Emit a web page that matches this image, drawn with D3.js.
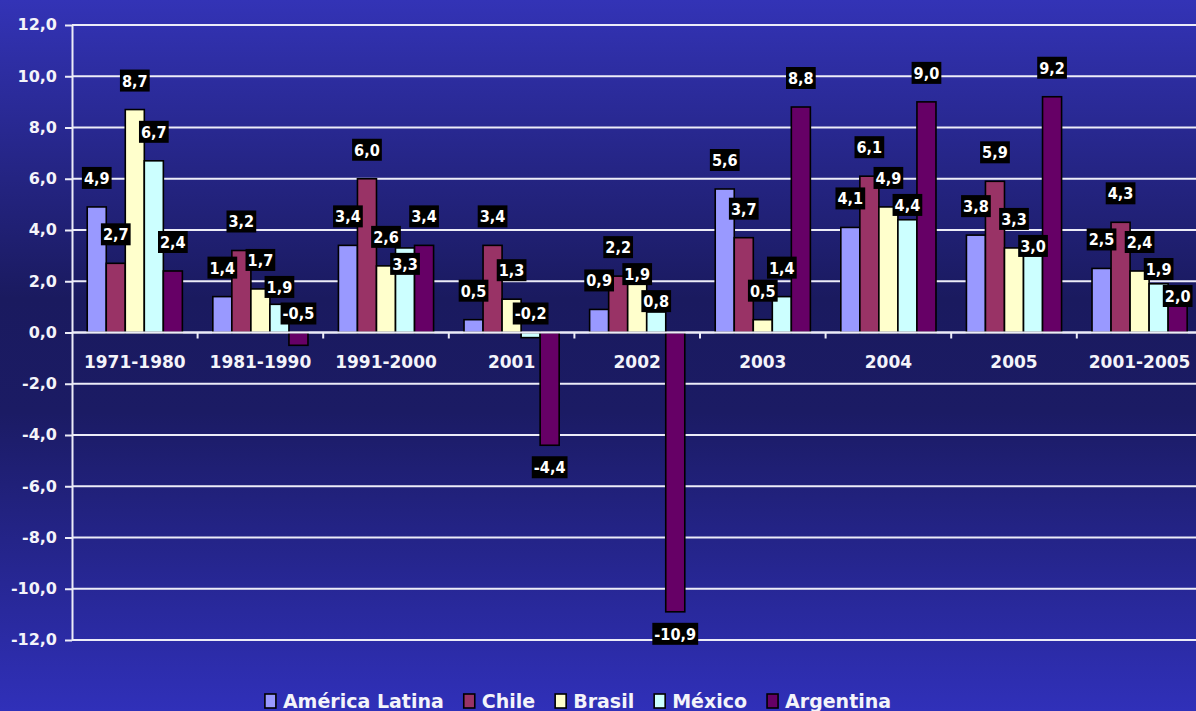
<!DOCTYPE html>
<html>
<head>
<meta charset="utf-8">
<script src="https://cdn.jsdelivr.net/npm/d3@7"></script>
<style>
  html, body { margin: 0; padding: 0; background: #1a1a60; }
  svg { display: block; font-family: "DejaVu Sans", Verdana, sans-serif; }
</style>
</head>
<body>
<svg id="chart"></svg>
<script>
// categories and series
const categories = ["1971-1980", "1981-1990", "1991-2000", "2001", "2002", "2003", "2004", "2005", "2001-2005"];
const seriesNames = ["América Latina", "Chile", "Brasil", "México", "Argentina"];
const seriesColors = ["#9999ff", "#993366", "#ffffcc", "#ccffff", "#660066"];

const americaLatina = [4.9, 1.4, 3.4, 0.5, 0.9, 5.6, 4.1, 3.8, 2.5];
const chile = [2.7, 3.2, 6.0, 3.4, 2.2, 3.7, 6.1, 5.9, 4.3];
const brasil = [8.7, 1.7, 2.6, 1.3, 1.9, 0.5, 4.9, 3.3, 2.4];
const mexico = [6.7, 1.1, 3.3, -0.2, 0.8, 1.4, 4.4, 3.0, 1.9];
const argentina = [2.4, -0.5, 3.4, -4.4, -10.9, 8.8, 9.0, 9.2, 1.1];

// labels printed on the chart that differ from the bar height
const shownLabels = { "México|1981-1990": "1,9", "Argentina|2001-2005": "2,0" };

const yTicks = [12, 10, 8, 6, 4, 2, 0, -2, -4, -6, -8, -10, -12];

const width = 1196, height = 711;
const svg = d3.select("#chart").attr("width", width).attr("height", height);

const locale = d3.formatLocale({ decimal: ",", thousands: ".", grouping: [3], currency: ["", ""], minus: "-" });
const fmt = locale.format(".1f");

// background gradient
const grad = svg.append("defs").append("linearGradient")
  .attr("id", "bg").attr("x1", 0).attr("y1", 0).attr("x2", 0).attr("y2", 1);
grad.append("stop").attr("offset", "0%").attr("stop-color", "#3333b6");
grad.append("stop").attr("offset", "42%").attr("stop-color", "#1a1a5f");
grad.append("stop").attr("offset", "58%").attr("stop-color", "#1b1b64");
grad.append("stop").attr("offset", "100%").attr("stop-color", "#3030b9");
svg.append("rect").attr("width", width).attr("height", height).attr("fill", "url(#bg)");

const left = 72;
const y = d3.scaleLinear().domain([-12, 12]).range([640, 25]);
const x0 = d3.scaleBand().domain(categories).range([left, left + 125.6 * categories.length]);
const x1 = d3.scaleBand().domain(seriesNames).range([0, x0.bandwidth()]).paddingOuter(0.8);

const data = [americaLatina, chile, brasil, mexico, argentina];

// gridlines
svg.append("g")
  .selectAll("line")
  .data(yTicks)
  .join("line")
  .attr("x1", left).attr("x2", width)
  .attr("y1", d => y(d)).attr("y2", d => y(d))
  .attr("stroke", "#ececf8")
  .attr("stroke-width", 2);

// y axis
const yAxis = svg.append("g")
  .attr("transform", `translate(${left},0)`)
  .call(d3.axisLeft(y).tickValues(yTicks).tickFormat(fmt).tickSize(7).tickSizeOuter(0).tickPadding(8));
yAxis.select(".domain").attr("stroke", "#ececf8").attr("stroke-width", 2);
yAxis.selectAll(".tick line").attr("stroke", "#ececf8").attr("stroke-width", 2);
yAxis.selectAll(".tick text")
  .attr("fill", "#f4f4fa")
  .attr("font-family", "DejaVu Sans, sans-serif")
  .attr("font-weight", "bold")
  .attr("font-size", 16)
  .attr("dy", "0.3em");

// bars
const series = svg.append("g")
  .selectAll("g")
  .data(data)
  .join("g")
  .attr("fill", (d, i) => seriesColors[i]);

series.selectAll("rect")
  .data((vals, i) => vals.map((v, j) => ({ s: seriesNames[i], c: categories[j], v })))
  .join("rect")
  .attr("x", d => x0(d.c) + x1(d.s))
  .attr("width", x1.bandwidth())
  .attr("y", d => y(Math.max(0, d.v)))
  .attr("height", d => Math.abs(y(d.v) - y(0)))
  .attr("stroke", "#000")
  .attr("stroke-width", 1.6);

// x axis line and ticks
const xAxis = svg.append("g");
xAxis.append("line")
  .attr("x1", left).attr("x2", width)
  .attr("y1", y(0)).attr("y2", y(0))
  .attr("stroke", "#ececf8").attr("stroke-width", 2);
xAxis.selectAll(".sep")
  .data(categories.slice(1))
  .join("line")
  .attr("class", "sep")
  .attr("x1", d => x0(d)).attr("x2", d => x0(d))
  .attr("y1", y(0)).attr("y2", y(0) + 6)
  .attr("stroke", "#ececf8").attr("stroke-width", 2);
xAxis.selectAll("text")
  .data(categories)
  .join("text")
  .attr("x", d => x0(d) + x0.bandwidth() / 2)
  .attr("y", y(0) + 35)
  .attr("text-anchor", "middle")
  .attr("fill", "#f4f4fa")
  .attr("font-weight", "bold")
  .attr("font-size", 17)
  .text(d => d);

// data labels: outside end, pushed down when they hit an earlier label of the same group
const labels = svg.append("g");
const boxH = 22, gap = 5;
categories.forEach((c, j) => {
  const placed = [];
  data.forEach((vals, i) => {
    const v = vals[j], s = seriesNames[i];
    const txt = shownLabels[s + "|" + c] || fmt(v);
    const cx = x0(c) + x1(s) + x1.bandwidth() / 2;
    let cy;
    if (v >= 0) cy = y(v) - 29;
    else if (y(v) + 22 < y(0) + 45) cy = y(0) - 19;
    else cy = y(v) + 22;

    const g = labels.append("g");
    const t = g.append("text")
      .attr("x", cx)
      .attr("dy", "0.36em")
      .attr("text-anchor", "middle")
      .attr("fill", "#fff")
      .attr("font-weight", "bold")
      .attr("font-size", 16.5)
      .text(txt);
    const w = t.node().getComputedTextLength() * 0.88;
    t.attr("textLength", w).attr("lengthAdjust", "spacingAndGlyphs");
    const bw = w + 4;

    let moved = true;
    while (moved) {
      moved = false;
      for (const p of placed) {
        const xOver = Math.abs(p.cx - cx) < (p.w + bw) / 2 - 1;
        const yOver = Math.abs(p.cy - cy) < boxH - 1;
        if (xOver && yOver) { cy = p.cy + boxH + gap; moved = true; }
      }
    }
    placed.push({ cx, cy, w: bw });

    t.attr("y", cy);
    g.insert("rect", "text")
      .attr("x", cx - bw / 2).attr("y", cy - boxH / 2)
      .attr("width", bw).attr("height", boxH)
      .attr("fill", "#000");
  });
});

// legend
const legend = svg.append("g");
let lx = 0;
const legendGap = 20;
seriesNames.forEach((name, i) => {
  const g = legend.append("g");
  g.append("rect")
    .attr("x", 0).attr("y", -14)
    .attr("width", 11).attr("height", 14)
    .attr("fill", seriesColors[i])
    .attr("stroke", "#000").attr("stroke-width", 1.6);
  const t = g.append("text")
    .attr("x", 18).attr("y", 0)
    .attr("fill", "#f4f4fa")
    .attr("font-weight", "bold")
    .attr("font-size", 19)
    .text(name);
  g.attr("transform", `translate(${lx},0)`);
  lx += 18 + t.node().getComputedTextLength() + legendGap;
});
const total = lx - legendGap;
legend.attr("transform", `translate(${578 - total / 2},708)`);
</script>
</body>
</html>
